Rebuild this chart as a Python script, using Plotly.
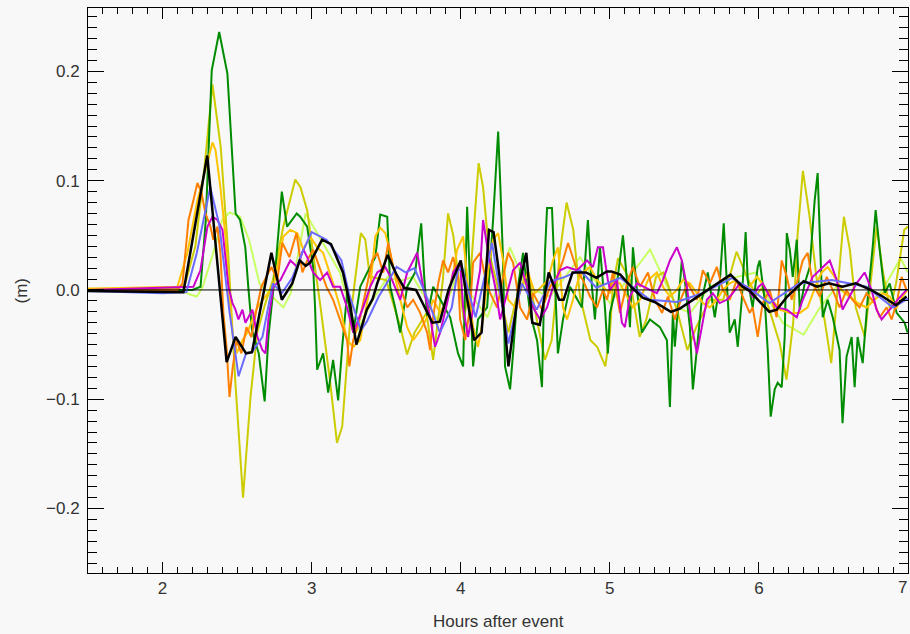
import plotly.graph_objects as go

# ---- data: (hours after event, metres) ----
GREEN = [(1.50,0.000),(2.20,0.000),(2.255,0.003),(2.29,0.064),(2.33,0.201),(2.38,0.236),(2.435,0.198),(2.47,0.110),(2.49,0.070),(2.52,0.064),(2.555,0.039),(2.575,0.003),(2.60,-0.037),(2.645,-0.058),(2.685,-0.102),(2.71,-0.043),(2.755,0.016),(2.80,0.090),(2.835,0.058),(2.90,0.070),(2.923,0.067),(2.970,0.058),(3.010,0.021),(3.023,-0.016),(3.037,-0.073),(3.077,-0.058),(3.111,-0.094),(3.144,-0.064),(3.178,-0.101),(3.205,-0.052),(3.238,-0.003),(3.279,-0.039),(3.326,0.003),(3.373,0.016),(3.427,0.030),(3.460,0.069),(3.507,0.067),(3.527,0.003),(3.560,-0.016),(3.594,-0.039),(3.641,0.003),(3.694,0.016),(3.735,0.061),(3.755,0.012),(3.775,-0.025),(3.815,0.003),(3.862,-0.009),(3.929,-0.025),(3.982,-0.058),(4.016,-0.070),(4.043,0.076),(4.063,0.009),(4.083,-0.070),(4.116,-0.027),(4.177,-0.016),(4.217,0.064),(4.251,0.145),(4.264,0.101),(4.284,0.027),(4.297,-0.070),(4.331,-0.091),(4.351,-0.058),(4.384,0.003),(4.418,0.034),(4.465,-0.021),(4.512,-0.046),(4.545,-0.089),(4.565,0.034),(4.579,0.075),(4.612,0.075),(4.632,0.009),(4.652,-0.058),(4.686,-0.027),(4.733,0.003),(4.813,-0.016),(4.853,0.064),(4.880,0.003),(4.900,-0.027),(4.934,0.039),(4.967,-0.016),(4.987,-0.058),(5.001,-0.021),(5.048,0.006),(5.088,0.050),(5.115,0.009),(5.135,-0.034),(5.155,0.039),(5.182,0.000),(5.215,-0.039),(5.269,-0.027),(5.336,-0.034),(5.383,-0.046),(5.403,-0.107),(5.423,-0.021),(5.436,-0.052),(5.483,0.027),(5.503,0.009),(5.537,-0.034),(5.557,-0.091),(5.584,-0.052),(5.617,-0.009),(5.657,0.016),(5.704,-0.025),(5.737,0.006),(5.764,0.061),(5.784,0.009),(5.804,-0.039),(5.838,-0.027),(5.858,-0.052),(5.885,-0.009),(5.911,0.053),(5.925,0.009),(5.958,-0.016),(5.992,0.021),(6.005,0.027),(6.039,-0.009),(6.059,-0.055),(6.079,-0.116),(6.106,-0.091),(6.126,-0.085),(6.153,-0.089),(6.173,-0.043),(6.187,0.052),(6.207,0.037),(6.227,0.012),(6.254,0.046),(6.274,-0.018),(6.307,0.006),(6.341,0.021),(6.374,0.082),(6.394,0.107),(6.408,0.052),(6.428,-0.025),(6.461,-0.009),(6.495,-0.025),(6.541,-0.055),(6.561,-0.122),(6.588,-0.061),(6.622,-0.043),(6.642,-0.089),(6.662,-0.043),(6.696,-0.067),(6.729,-0.009),(6.763,0.039),(6.783,0.073),(6.810,0.037),(6.843,-0.003),(6.877,0.006),(6.924,-0.021),(6.977,-0.030),(6.997,-0.039)]

OLIVE = [(1.50,0.001),(2.10,0.001),(2.15,0.005),(2.22,0.040),(2.28,0.110),(2.335,0.188),(2.39,0.131),(2.44,0.034),(2.49,-0.088),(2.54,-0.190),(2.59,-0.098),(2.635,-0.039),(2.69,-0.012),(2.74,0.009),(2.81,0.058),(2.89,0.101),(2.925,0.094),(2.97,0.073),(3.06,-0.016),(3.125,-0.085),(3.17,-0.140),(3.205,-0.125),(3.26,-0.025),(3.33,0.052),(3.36,0.046),(3.39,0.012),(3.50,0.009),(3.595,-0.034),(3.64,-0.059),(3.69,-0.039),(3.77,-0.021),(3.815,-0.064),(3.88,0.009),(3.915,0.070),(3.95,0.050),(3.98,0.015),(4.02,-0.027),(4.06,0.003),(4.12,0.116),(4.15,0.094),(4.19,0.034),(4.26,-0.003),(4.32,-0.039),(4.37,-0.009),(4.45,0.018),(4.51,-0.027),(4.565,-0.064),(4.61,-0.046),(4.665,0.034),(4.71,0.080),(4.755,0.055),(4.80,-0.006),(4.87,-0.046),(4.915,-0.052),(4.97,-0.070),(5.00,-0.040),(5.02,0.003),(5.055,0.029),(5.135,0.009),(5.20,-0.043),(5.245,-0.027),(5.31,0.012),(5.36,0.016),(5.45,-0.018),(5.52,-0.055),(5.58,-0.034),(5.67,-0.009),(5.76,-0.009),(5.85,0.035),(5.92,0.012),(5.98,-0.005),(6.02,0.002),(6.07,-0.018),(6.14,-0.049),(6.185,-0.082),(6.23,-0.030),(6.26,0.052),(6.295,0.109),(6.34,0.067),(6.385,0.012),(6.44,-0.027),(6.485,-0.067),(6.53,0.006),(6.57,0.067),(6.61,0.037),(6.65,-0.016),(6.71,-0.043),(6.75,0.006),(6.79,0.058),(6.83,0.018),(6.88,-0.018),(6.92,0.006),(6.975,0.055),(7.00,0.058)]

GOLD = [(1.50,0.001),(2.10,0.003),(2.167,0.034),(2.234,0.082),(2.288,0.110),(2.335,0.135),(2.355,0.128),(2.388,0.094),(2.422,0.049),(2.442,0.003),(2.469,-0.039),(2.496,-0.058),(2.536,-0.046),(2.569,-0.039),(2.603,-0.027),(2.636,-0.016),(2.690,-0.006),(2.743,0.003),(2.810,0.049),(2.857,0.055),(2.904,0.052),(2.944,0.037),(2.990,0.049),(3.037,0.039),(3.077,0.034),(3.144,0.006),(3.191,-0.016),(3.238,-0.046),(3.279,-0.052),(3.326,-0.046),(3.359,-0.021),(3.393,0.003),(3.427,0.049),(3.460,0.057),(3.494,0.052),(3.527,0.034),(3.560,0.012),(3.594,-0.009),(3.641,-0.034),(3.681,-0.046),(3.728,-0.037),(3.775,-0.025),(3.815,-0.009),(3.862,-0.021),(3.909,-0.009),(3.949,0.016),(3.976,0.037),(4.016,0.049),(4.049,0.003),(4.083,-0.034),(4.116,-0.052),(4.150,-0.027),(4.184,0.018),(4.217,0.046),(4.251,0.052),(4.284,0.027),(4.318,-0.009),(4.365,-0.016),(4.411,0.003),(4.452,0.016),(4.498,-0.003),(4.545,0.003),(4.585,0.009),(4.619,0.027),(4.652,0.039),(4.686,-0.016),(4.713,-0.027),(4.753,-0.009),(4.787,0.009),(4.820,0.016),(4.867,0.021),(4.914,0.009),(4.954,0.003),(5.001,-0.003),(5.021,0.009),(5.068,0.006),(5.115,-0.006),(5.155,-0.016),(5.202,-0.009),(5.256,0.009),(5.316,0.016),(5.356,0.003),(5.403,-0.006),(5.450,0.000),(5.490,0.009),(5.537,0.006),(5.584,-0.003),(5.624,-0.012),(5.671,-0.016),(5.718,-0.009),(5.758,0.000),(5.804,0.006),(5.851,0.009),(5.891,0.000),(5.938,0.003),(5.985,0.012),(6.025,0.006),(6.072,-0.006),(6.139,-0.018),(6.207,-0.021),(6.274,-0.021),(6.327,-0.016),(6.387,0.006),(6.421,0.016),(6.461,0.021),(6.508,0.012),(6.555,0.000),(6.608,-0.006),(6.662,-0.012),(6.722,-0.016),(6.776,-0.009),(6.830,-0.003),(6.877,-0.006),(6.924,-0.016),(6.964,-0.006),(6.997,0.000)]

ORANGE = [(1.50,0.000),(2.10,0.000),(2.134,0.006),(2.174,0.064),(2.207,0.082),(2.234,0.098),(2.261,0.089),(2.288,0.070),(2.321,0.058),(2.341,0.046),(2.368,0.058),(2.388,0.034),(2.408,-0.021),(2.429,-0.052),(2.449,-0.098),(2.469,-0.073),(2.496,-0.046),(2.529,-0.058),(2.563,-0.034),(2.596,-0.043),(2.630,-0.018),(2.663,0.003),(2.696,0.012),(2.730,0.021),(2.770,0.009),(2.804,0.043),(2.851,0.030),(2.898,0.052),(2.938,0.016),(2.971,0.027),(3.010,0.037),(3.052,0.021),(3.099,0.003),(3.144,-0.009),(3.186,-0.025),(3.238,-0.046),(3.253,-0.070),(3.279,-0.046),(3.326,-0.025),(3.373,0.006),(3.406,0.027),(3.440,0.034),(3.480,0.016),(3.514,0.043),(3.547,0.021),(3.594,0.003),(3.641,-0.016),(3.681,-0.009),(3.728,-0.021),(3.775,-0.039),(3.795,-0.055),(3.815,-0.025),(3.849,0.006),(3.882,0.027),(3.915,0.016),(3.949,0.030),(3.982,0.012),(3.996,-0.027),(4.030,-0.046),(4.063,-0.016),(4.083,0.025),(4.130,0.034),(4.164,0.012),(4.197,-0.003),(4.244,-0.016),(4.284,0.012),(4.318,0.034),(4.351,0.025),(4.398,-0.016),(4.445,-0.027),(4.485,-0.003),(4.545,-0.018),(4.599,0.003),(4.646,0.012),(4.686,0.027),(4.720,0.043),(4.780,0.018),(4.820,0.009),(4.867,-0.006),(4.914,-0.016),(4.954,0.000),(4.981,-0.009),(5.021,0.016),(5.068,-0.021),(5.115,0.006),(5.155,0.021),(5.202,0.003),(5.256,0.016),(5.303,-0.009),(5.350,-0.021),(5.390,-0.006),(5.436,-0.027),(5.483,-0.006),(5.523,0.006),(5.584,-0.009),(5.624,0.018),(5.671,0.006),(5.718,0.021),(5.758,0.000),(5.804,-0.009),(5.851,0.009),(5.891,-0.006),(5.938,-0.021),(5.958,-0.016),(5.992,-0.043),(6.025,-0.012),(6.072,0.000),(6.119,-0.025),(6.153,0.027),(6.187,0.012),(6.220,-0.009),(6.254,0.006),(6.294,0.027),(6.327,0.034),(6.361,0.006),(6.408,-0.006),(6.455,0.012),(6.495,0.000),(6.541,-0.016),(6.588,0.000),(6.628,-0.009),(6.675,-0.016),(6.722,-0.003),(6.776,-0.012),(6.810,-0.025),(6.857,-0.016),(6.890,-0.027),(6.924,-0.012),(6.957,0.012),(6.990,0.000)]

MAGENTA = [(1.50,0.000),(2.207,0.003),(2.254,0.018),(2.301,0.058),(2.335,0.067),(2.368,0.064),(2.402,0.055),(2.422,0.027),(2.442,0.003),(2.469,-0.012),(2.489,-0.018),(2.509,-0.027),(2.536,-0.018),(2.556,-0.030),(2.576,-0.025),(2.603,-0.018),(2.636,-0.043),(2.670,-0.055),(2.690,-0.058),(2.710,-0.027),(2.743,0.003),(2.790,0.009),(2.857,0.027),(2.904,0.021),(2.944,0.037),(2.970,0.030),(3.010,0.016),(3.057,0.009),(3.104,0.016),(3.144,0.003),(3.191,0.003),(3.238,-0.016),(3.279,-0.039),(3.313,-0.027),(3.346,-0.016),(3.393,0.003),(3.440,0.016),(3.494,0.021),(3.540,0.009),(3.594,-0.009),(3.641,0.016),(3.708,0.034),(3.748,0.003),(3.795,-0.025),(3.828,-0.052),(3.862,-0.039),(3.909,-0.012),(3.949,0.016),(3.996,0.025),(4.016,-0.016),(4.049,-0.043),(4.083,-0.018),(4.130,0.018),(4.150,0.064),(4.184,0.034),(4.231,0.003),(4.264,-0.027),(4.311,-0.003),(4.351,0.018),(4.398,0.025),(4.445,0.003),(4.485,-0.016),(4.532,-0.027),(4.579,-0.016),(4.619,0.003),(4.666,0.018),(4.713,0.021),(4.780,0.018),(4.847,0.027),(4.887,0.021),(4.920,0.039),(4.954,0.039),(4.987,0.009),(5.001,0.000),(5.048,0.009),(5.081,-0.030),(5.101,-0.034),(5.135,-0.006),(5.182,0.006),(5.222,0.003),(5.269,0.000),(5.316,-0.003),(5.356,0.009),(5.403,0.027),(5.450,0.039),(5.483,0.027),(5.517,0.003),(5.550,-0.034),(5.584,-0.058),(5.617,-0.034),(5.651,-0.009),(5.691,-0.003),(5.737,-0.012),(5.784,-0.009),(5.825,-0.003),(5.871,0.006),(5.918,0.003),(5.958,-0.006),(5.998,0.003),(6.025,0.006),(6.072,-0.006),(6.119,-0.016),(6.187,-0.018),(6.254,-0.025),(6.294,-0.009),(6.361,0.012),(6.428,0.021),(6.475,0.027),(6.522,0.009),(6.561,-0.018),(6.608,-0.006),(6.655,0.006),(6.709,0.016),(6.756,0.000),(6.789,-0.018),(6.823,-0.027),(6.877,-0.018),(6.930,-0.009),(6.990,0.000)]

BLUE = [(1.50,-0.001),(2.00,-0.003),(2.16,-0.002),(2.23,0.034),(2.32,0.094),(2.38,0.060),(2.45,-0.021),(2.51,-0.079),(2.56,-0.058),(2.60,-0.057),(2.67,-0.043),(2.74,0.006),(2.80,-0.003),(2.87,0.011),(2.94,0.035),(3.00,0.053),(3.10,0.046),(3.20,0.027),(3.25,-0.003),(3.33,-0.037),(3.37,-0.029),(3.45,-0.006),(3.57,0.021),(3.63,0.016),(3.69,0.020),(3.78,-0.009),(3.86,-0.039),(3.94,-0.016),(3.98,0.018),(4.01,0.020),(4.10,-0.025),(4.21,0.043),(4.32,-0.049),(4.41,0.006),(4.51,-0.018),(4.60,0.008),(4.70,0.012),(4.80,0.018),(4.91,0.002),(5.07,0.011),(5.27,-0.009),(5.45,-0.011),(5.62,-0.003),(5.82,0.011),(5.95,0.000),(6.07,-0.012),(6.27,0.006),(6.49,0.009),(6.72,0.003),(6.90,-0.016),(7.00,-0.008)]

LIGHTGREEN = [(1.50,0.000),(2.12,0.000),(2.18,-0.004),(2.23,-0.006),(2.27,0.003),(2.34,0.034),(2.40,0.064),(2.45,0.071),(2.52,0.067),(2.58,0.046),(2.65,0.006),(2.69,0.000),(2.81,-0.016),(2.86,-0.003),(2.92,0.040),(2.96,0.070),(3.05,0.049),(3.19,0.016),(3.30,-0.039),(3.41,-0.009),(3.51,0.012),(3.59,0.008),(3.68,0.012),(3.77,-0.009),(3.84,-0.027),(3.93,-0.003),(3.97,0.012),(4.06,-0.003),(4.18,-0.025),(4.33,0.039),(4.44,0.003),(4.60,-0.006),(4.80,0.030),(5.00,-0.012),(5.27,0.037),(5.45,-0.016),(5.54,-0.021),(5.67,0.003),(5.85,0.012),(5.98,0.016),(6.07,-0.010),(6.16,-0.030),(6.30,-0.041),(6.40,-0.018),(6.52,0.003),(6.63,-0.009),(6.72,-0.016),(6.83,0.000),(6.95,0.029),(7.00,0.016)]

BLACK = [(1.50,-0.001),(2.00,-0.002),(2.14,-0.002),(2.30,0.123),(2.43,-0.066),(2.49,-0.043),(2.56,-0.058),(2.60,-0.057),(2.73,0.034),(2.80,-0.009),(2.87,0.006),(2.92,0.027),(2.96,0.022),(2.99,0.025),(3.07,0.046),(3.13,0.042),(3.21,0.016),(3.26,-0.015),(3.30,-0.050),(3.37,-0.018),(3.41,-0.008),(3.44,0.006),(3.51,0.032),(3.57,0.014),(3.62,0.002),(3.70,0.000),(3.81,-0.030),(3.86,-0.029),(3.92,0.001),(4.00,0.027),(4.09,-0.046),(4.14,-0.039),(4.19,0.055),(4.22,0.053),(4.27,0.003),(4.32,-0.070),(4.39,0.003),(4.44,0.034),(4.48,-0.030),(4.53,-0.032),(4.59,0.016),(4.66,-0.009),(4.69,-0.009),(4.75,0.016),(4.84,0.016),(4.91,0.011),(4.98,0.017),(5.01,0.017),(5.07,0.014),(5.15,0.002),(5.22,-0.007),(5.30,-0.011),(5.41,-0.020),(5.47,-0.017),(5.60,-0.005),(5.69,0.003),(5.81,0.014),(5.89,0.003),(5.94,-0.001),(6.00,-0.010),(6.07,-0.020),(6.12,-0.018),(6.19,-0.006),(6.30,0.008),(6.39,0.003),(6.47,0.006),(6.56,0.003),(6.65,0.006),(6.75,0.000),(6.83,-0.006),(6.92,-0.014),(6.99,-0.006)]

SERIES = [
    ("light green", LIGHTGREEN, "#c8ff64", 2),
    ("olive", OLIVE, "#cccc00", 2),
    ("green", GREEN, "#008c00", 2),
    ("gold", GOLD, "#ffc400", 2),
    ("orange", ORANGE, "#ff8000", 2),
    ("magenta", MAGENTA, "#cc00cc", 2),
    ("blue", BLUE, "#6a6aff", 2),
    ("black", BLACK, "#000000", 2.5),
]

X_TICKS = [2, 3, 4, 5, 6, 7]
Y_TICKS = [-0.2, -0.1, 0.0, 0.1, 0.2]
X_RANGE = [1.5, 7.0]
Y_RANGE = [-0.259, 0.258]

BG = "#f8f8f8"
FONT = "Liberation Sans, Arial, sans-serif"
TXT = "#333333"

fig = go.Figure()
for name, pts, color, width in SERIES:
    fig.add_trace(go.Scatter(
        x=[p[0] for p in pts], y=[p[1] for p in pts], mode="lines", name=name,
        line=dict(color=color, width=width), hoverinfo="skip"))

fig.add_shape(type="line", xref="paper", x0=0, x1=1, yref="y", y0=0, y1=0,
              line=dict(color="#000000", width=1), layer="above")

axis_common = dict(showgrid=False, zeroline=False, showline=True, linecolor="#000000",
                   linewidth=1, mirror="ticks", ticks="inside", tickcolor="#000000",
                   tickwidth=1, automargin=False,
                   tickfont=dict(family=FONT, size=17, color=TXT))

# the last x label sits at the right edge; it is drawn right-aligned so it stays inside
x_text = [str(v) if v != X_TICKS[-1] else "" for v in X_TICKS]
fig.update_xaxes(range=X_RANGE, tickvals=X_TICKS, ticktext=x_text,
                 ticklen=11, minor=dict(ticks="inside", ticklen=6, dtick=0.1, tick0=1.5,
                                        tickcolor="#000000", tickwidth=1),
                 **axis_common)
fig.update_yaxes(range=Y_RANGE, tickvals=Y_TICKS, tickformat=".1f",
                 ticklen=16, ticklabelstandoff=4,
                 minor=dict(ticks="inside", ticklen=9, dtick=0.01, tick0=0,
                            tickcolor="#000000", tickwidth=1),
                 **axis_common)

fig.add_annotation(text=str(X_TICKS[-1]), xref="x", yref="paper", x=X_TICKS[-1], y=-0.0265,
                   showarrow=False, xanchor="right", yanchor="middle", xshift=1,
                   font=dict(family=FONT, size=17, color=TXT))
fig.add_annotation(text="Hours after event", xref="paper", yref="paper", x=0.5, y=-0.0867,
                   showarrow=False, xanchor="center", yanchor="middle",
                   font=dict(family=FONT, size=17, color=TXT))
fig.add_annotation(text="(m)", xref="paper", yref="paper", x=-0.0805, y=0.5,
                   textangle=-90, showarrow=False, xanchor="center", yanchor="middle",
                   font=dict(family=FONT, size=17, color=TXT))

fig.update_layout(width=910, height=634, margin=dict(l=88, r=2, t=8, b=61),
                  paper_bgcolor=BG, plot_bgcolor=BG, showlegend=False)

fig.write_html("out.html")
